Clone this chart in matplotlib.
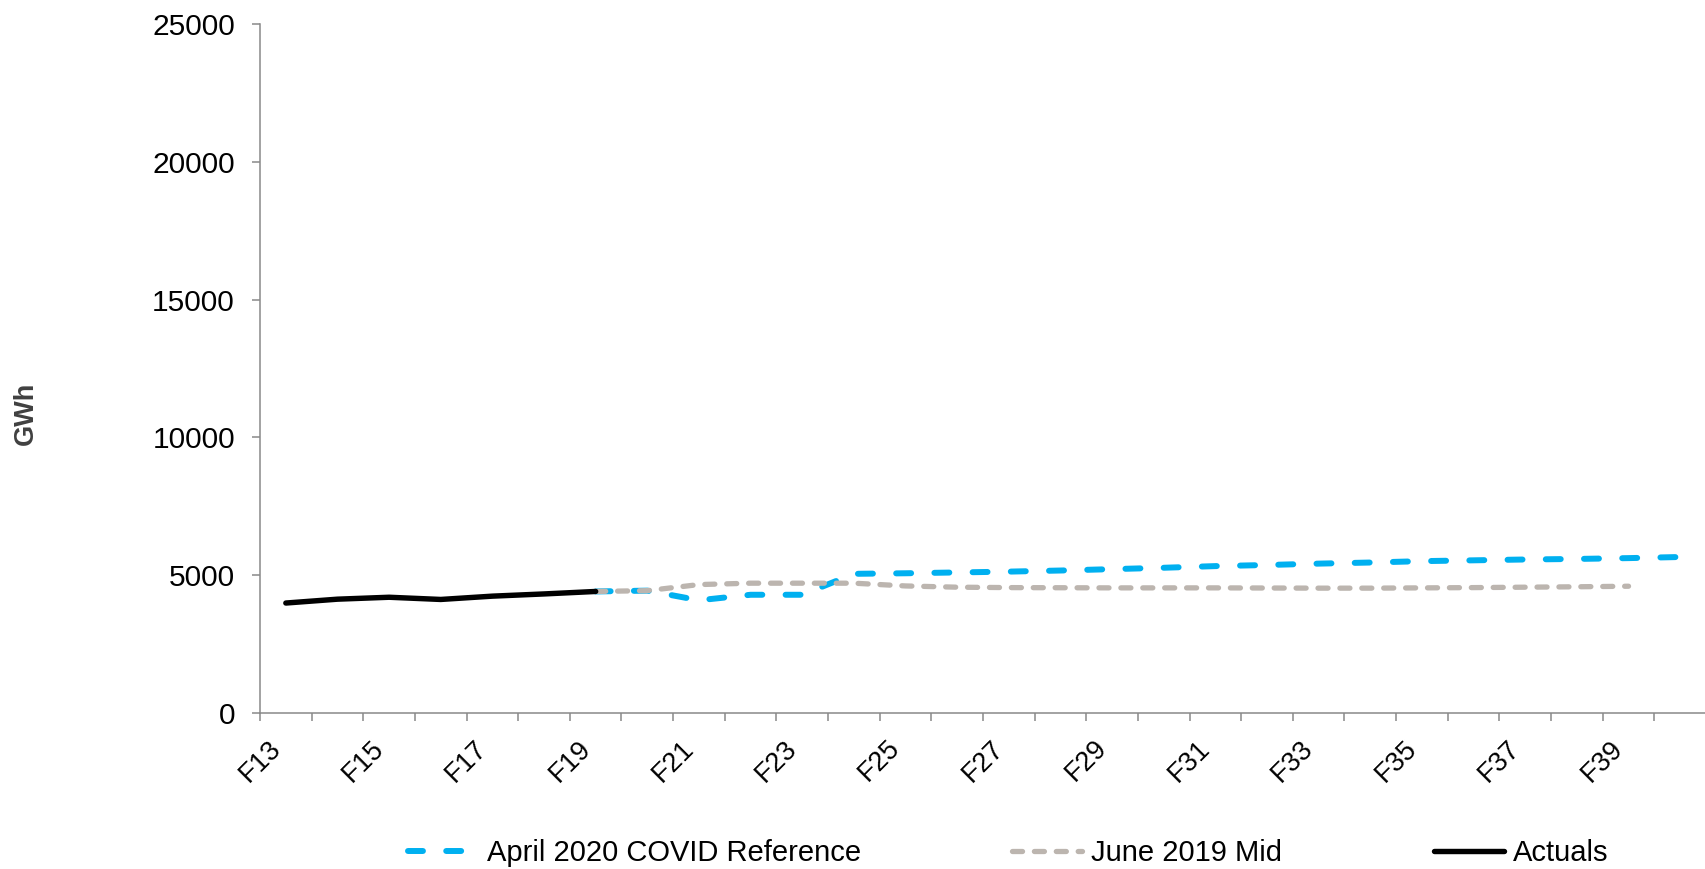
import numpy as np
import matplotlib
matplotlib.use("Agg")
import matplotlib.pyplot as plt

plt.rcParams['font.family'] = ['Liberation Sans', 'DejaVu Sans']

# Financial years on the category axis
years = ["F%d" % y for y in range(13, 41)]

# Historical consumption (F13-F19), GWh
actuals = [3990, 4130, 4200, 4120, 4240, 4320, 4410]

# April 2020 COVID reference forecast (F19-F40), GWh
covid_2020 = [4410, 4440, 4090, 4290, 4290, 5050, 5070, 5100, 5130, 5170, 5220,
              5270, 5330, 5370, 5420, 5460, 5510, 5540, 5570, 5590, 5620, 5660]

# June 2019 mid forecast (F19-F39), GWh
mid_2019 = [4410, 4440, 4660, 4710, 4710, 4710, 4610, 4565, 4550, 4545, 4540,
            4540, 4540, 4535, 4530, 4530, 4540, 4550, 4565, 4580, 4600]

blue = "#00B0F0"
grey = "#BCB5AF"
axis_grey = "#898989"

fig = plt.figure(figsize=(17.06, 8.69), dpi=100)
ax = fig.add_axes([260 / 1706, 1 - 713 / 869, 1 - 260 / 1706, (713 - 24) / 869])

x_act = np.arange(len(actuals))
x_covid = np.arange(6, 6 + len(covid_2020))
x_mid = np.arange(6, 6 + len(mid_2019))

l1, = ax.plot(x_covid, covid_2020, color=blue, lw=4.3, dashes=(2.5, 3.9),
              dash_capstyle='round', label="April 2020 COVID Reference")
l2, = ax.plot(x_mid, mid_2019, color=grey, lw=3.8, dashes=(1.9, 2.25),
              dash_capstyle='round', label="June 2019 Mid")
l3, = ax.plot(x_act, actuals, color="black", lw=3.9, solid_capstyle='round',
              label="Actuals")

ax.set_ylim(0, 25000)
ax.set_xlim(-0.5, (1706 - 260) / 52 - 0.5)
ax.set_yticks(np.arange(0, 25001, 5000))
ax.tick_params(axis='y', labelsize=21.5, length=6, width=1.1, color=axis_grey,
               pad=12)

# ticks between categories, labels on every other category
ax.set_xticks(np.arange(-0.5, len(years), 1))
ax.set_xticklabels([])
ax.tick_params(axis='x', which='major', length=5.5, width=1.1, color=axis_grey)
ax.set_xticks(np.arange(0, len(years), 2), minor=True)
ax.set_xticklabels(years[::2], minor=True, rotation=45, ha='right', va='top')
ax.tick_params(axis='x', which='minor', length=0, labelsize=19.5, pad=16)

for side in ['top', 'right']:
    ax.spines[side].set_visible(False)
for side in ['left', 'bottom']:
    ax.spines[side].set_color(axis_grey)
    ax.spines[side].set_linewidth(1.1)

fig.text(26 / 1706, 1 - 413 / 869, "GWh", rotation=90, ha='center', va='center',
         fontsize=19.5, fontweight='bold', color="#404040")

fig.legend(handles=[l1, l2, l3], loc='center', ncol=3, frameon=False,
           bbox_to_anchor=(1008 / 1706, 1 - 853 / 869), fontsize=21,
           handlelength=2.4, handletextpad=0.3, columnspacing=5.2)

fig.savefig("out.png", dpi=100)
